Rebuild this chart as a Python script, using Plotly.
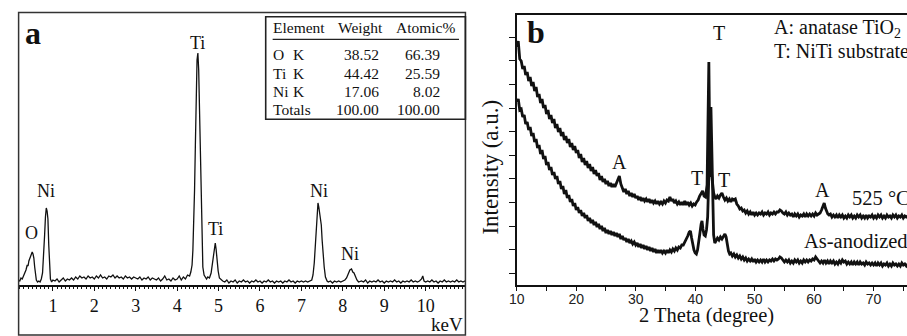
import plotly.graph_objects as go

W, H = 907, 336
SERIF = "Liberation Serif, Times New Roman, serif"
SANS = "Liberation Sans, Arial, sans-serif"
INK = "#111111"

# ================= Panel (a): EDS spectrum =================
eds_kev = [
    0.17, 0.20, 0.23, 0.26, 0.29, 0.32, 0.35, 0.38, 0.40, 0.42,
    0.45, 0.48, 0.50, 0.52, 0.54, 0.56, 0.58, 0.60, 0.63, 0.66,
    0.69, 0.72, 0.75, 0.78, 0.80, 0.82, 0.84, 0.86, 0.88, 0.90,
    0.92, 0.94, 0.97, 1.00,
    1.05, 1.10, 1.15, 1.20, 1.25, 1.30, 1.35, 1.40, 1.45, 1.50,
    1.55, 1.60, 1.65, 1.70, 1.75, 1.80, 1.85, 1.90, 1.95, 2.00,
    2.05, 2.10, 2.15, 2.20, 2.25, 2.30, 2.35, 2.40, 2.45, 2.50,
    2.55, 2.60, 2.65, 2.70, 2.75, 2.80, 2.85, 2.90, 2.95, 3.00,
    3.05, 3.10, 3.15, 3.20, 3.25, 3.30, 3.35, 3.40, 3.45, 3.50,
    3.55, 3.60, 3.65, 3.70, 3.75, 3.80, 3.85, 3.90, 3.95, 4.00,
    4.05, 4.10, 4.15, 4.20, 4.25, 4.30,
    4.33, 4.36, 4.38, 4.40, 4.42, 4.44, 4.46, 4.48, 4.50, 4.52,
    4.54, 4.56, 4.58, 4.60, 4.62, 4.65, 4.68, 4.71, 4.74, 4.78,
    4.82, 4.86, 4.89, 4.92, 4.94, 4.96, 4.99, 5.02, 5.06, 5.10,
    5.15, 5.20, 5.25, 5.30, 5.35, 5.40, 5.45, 5.50, 5.55, 5.60,
    5.65, 5.70, 5.75, 5.80, 5.85, 5.90, 5.95, 6.00, 6.05, 6.10,
    6.15, 6.20, 6.25, 6.30, 6.35, 6.40, 6.45, 6.50, 6.55, 6.60,
    6.65, 6.70, 6.75, 6.80, 6.85, 6.90, 6.95, 7.00, 7.05, 7.10,
    7.15, 7.20, 7.25,
    7.28, 7.31, 7.34, 7.36, 7.38, 7.40, 7.42, 7.44, 7.46, 7.48,
    7.50, 7.52, 7.55, 7.58, 7.62,
    7.65, 7.70, 7.75, 7.80, 7.85, 7.90, 7.95, 8.00, 8.05,
    8.09, 8.13, 8.17, 8.21, 8.24, 8.27, 8.30, 8.34, 8.38,
    8.45, 8.50, 8.55, 8.60, 8.65, 8.70, 8.75, 8.80, 8.85, 8.90,
    8.95, 9.00, 9.05, 9.10, 9.15, 9.20, 9.25, 9.30, 9.35, 9.40,
    9.45, 9.50, 9.55, 9.60, 9.65, 9.70, 9.75, 9.80, 9.85, 9.90,
    9.93, 9.96,
    10.00, 10.05, 10.10, 10.15, 10.20, 10.25, 10.30, 10.35, 10.40, 10.45,
    10.50, 10.55, 10.60, 10.65, 10.70, 10.75, 10.80, 10.85, 10.90, 10.95,
    10.99,
]
eds_counts = [
    5, 4, 7, 6, 9, 12, 15, 20, 19, 24,
    27, 30, 33, 31, 27, 18, 9, 5, 3, 4,
    3, 6, 12, 30, 50, 68, 77, 74, 66, 40,
    14, 6, 3, 5,
    4, 6, 3, 5, 7, 4, 6, 5, 7, 5,
    8, 6, 9, 7, 8, 6, 9, 7, 8, 6,
    9, 7, 10, 7, 8, 6, 9, 8, 10, 7,
    9, 7, 8, 6, 9, 7, 8, 6, 8, 7,
    6, 8, 5, 7, 6, 8, 5, 7, 6, 5,
    7, 4, 6, 9, 5, 6, 4, 7, 5, 6,
    9, 5, 8, 6, 10, 9,
    13, 20, 35, 60, 95, 140, 185, 225, 232, 215,
    175, 125, 75, 35, 18, 10, 8, 6, 8, 7,
    12, 25, 36, 42, 36, 26, 14, 7, 5, 4,
    3, 5, 2, 4, 3, 5, 2, 4, 3, 5,
    3, 4, 2, 4, 3, 5, 3, 4, 2, 4,
    3, 5, 3, 4, 2, 4, 3, 4, 2, 4,
    3, 5, 3, 4, 2, 4, 3, 4, 3, 4,
    3, 4, 5,
    10, 22, 42, 60, 75, 82, 78, 72, 68, 60,
    45, 32, 18, 8, 4,
    3, 4, 2, 4, 3, 4, 3, 4, 5,
    7, 11, 15, 16, 13, 12, 8, 5, 3,
    4, 3, 5, 2, 4, 3, 4, 3, 5, 3,
    4, 2, 4, 3, 4, 3, 5, 3, 4, 2,
    4, 3, 4, 3, 5, 3, 4, 3, 4, 6,
    9, 4,
    3, 4, 3, 5, 3, 4, 2, 4, 3, 5,
    3, 4, 3, 4, 3, 5, 3, 4, 3, 4,
    3,
]
eds_peak_names = ["O", "Ni", "Ti", "Ti", "Ni", "Ni"]

table_header = ["Element", "Weight", "Atomic%"]
table_element = ["O", "Ti", "Ni", "Totals"]
table_line = ["K", "K", "K", ""]
table_weight = ["38.52", "44.42", "17.06", "100.00"]
table_atomic = ["66.39", "25.59", "8.02", "100.00"]

# ================= Panel (b): XRD patterns =================
xrd_525_deg = [
    10.0, 10.25, 10.5, 10.75, 11.0, 11.25, 11.5, 11.75, 12.0, 12.25,
    12.5, 12.75, 13.0, 13.25, 13.5, 13.75, 14.0, 14.25, 14.5, 14.75,
    15.0, 15.25, 15.5, 15.75, 16.0, 16.25, 16.5, 16.75, 17.0, 17.25,
    17.5, 17.75, 18.0, 18.25, 18.5, 18.75, 19.0, 19.25, 19.5, 19.75,
    20.0, 20.25, 20.5, 20.75, 21.0, 21.25, 21.5, 21.75, 22.0, 22.25,
    22.5, 22.75, 23.0, 23.25, 23.5, 23.75, 24.0, 24.25, 24.5, 24.75,
    25.0, 25.25, 25.5, 25.75, 26.0, 26.25, 26.5, 26.75, 27.0, 27.25,
    27.5, 27.75, 28.0, 28.25, 28.5, 28.75, 29.0, 29.25, 29.5, 29.75,
    30.0, 30.25, 30.5, 30.75, 31.0, 31.25, 31.5, 31.75, 32.0, 32.25,
    32.5, 32.75, 33.0, 33.25, 33.5, 33.75, 34.0, 34.25, 34.5, 34.75,
    35.0, 35.25, 35.5, 35.75, 36.0, 36.25, 36.5, 36.75, 37.0, 37.25,
    37.5, 37.75, 38.0, 38.25, 38.5, 38.75, 39.0, 39.25, 39.5, 39.75,
    40.0, 40.25, 40.5, 40.75, 41.0, 41.25, 41.5, 41.75,
    42.0, 42.15, 42.3, 42.45, 42.6, 42.75, 42.9, 43.1, 43.3, 43.5,
    43.75, 44.0, 44.25, 44.5, 44.75, 45.0, 45.25, 45.5, 45.75, 46.0,
    46.25, 46.5, 46.75, 47.0, 47.25, 47.5, 47.75, 48.0, 48.25, 48.5,
    48.75, 49.0, 49.25, 49.5, 49.75, 50.0, 50.25, 50.5, 50.75, 51.0,
    51.25, 51.5, 51.75, 52.0, 52.25, 52.5, 52.75, 53.0, 53.25, 53.5,
    53.75, 54.0, 54.25, 54.5, 54.75, 55.0, 55.25, 55.5, 55.75, 56.0,
    56.25, 56.5, 56.75, 57.0, 57.25, 57.5, 57.75, 58.0, 58.25, 58.5,
    58.75, 59.0, 59.25, 59.5, 59.75, 60.0, 60.25, 60.5, 60.75, 61.0,
    61.25,
    61.5, 61.7, 61.9, 62.1, 62.3, 62.5,
    62.75, 63.0, 63.25, 63.5, 63.75, 64.0, 64.25, 64.5, 64.75, 65.0,
    65.25, 65.5, 65.75, 66.0, 66.25, 66.5, 66.75, 67.0, 67.25, 67.5,
    67.75, 68.0, 68.25, 68.5, 68.75, 69.0, 69.25, 69.5, 69.75, 70.0,
    70.25, 70.5, 70.75, 71.0, 71.25, 71.5, 71.75, 72.0, 72.25, 72.5,
    72.75, 73.0, 73.25, 73.5, 73.75, 74.0, 74.25, 74.5, 74.75, 75.0,
    75.25, 75.5, 75.75,
]
xrd_525_int = [
    238, 244, 226, 224, 216, 219, 210, 213, 204, 208,
    199, 203, 194, 198, 188, 191, 182, 186, 177, 180,
    171, 175, 166, 170, 162, 166, 157, 161, 153, 157,
    149, 153, 145, 149, 142, 146, 138, 142, 135, 139,
    132, 135, 127, 131, 123, 127, 120, 124, 117, 121,
    114, 118, 111, 115, 109, 112, 105, 109, 103, 106,
    101, 104, 99, 102, 98, 101, 98, 102, 104, 109,
    101, 96, 93, 96, 91, 94, 89, 92, 88, 91,
    87, 89, 85, 88, 84, 87, 84, 86, 83, 86,
    82, 85, 82, 84, 81, 84, 81, 83, 81, 84,
    82, 85, 84, 88, 84, 86, 82, 84, 81, 83,
    80, 83, 80, 84, 80, 83, 80, 82, 79, 81,
    80, 83, 85, 89, 91, 94, 89, 88,
    100, 160, 223, 140, 108, 112, 100, 92, 88, 86,
    89, 87, 90, 92, 88, 85, 87, 84, 86, 83,
    86, 85, 86, 81, 79, 76, 77, 74, 75, 72,
    74, 71, 73, 70, 73, 70, 72, 70, 72, 71,
    73, 70, 72, 71, 73, 70, 72, 71, 73, 71,
    73, 73, 75, 74, 72, 71, 73, 70, 72, 70,
    71, 68, 71, 69, 71, 68, 70, 69, 71, 68,
    71, 69, 71, 69, 71, 69, 72, 70, 71, 72,
    75,
    80, 82, 77, 73, 71, 70,
    71, 68, 70, 68, 70, 67, 70, 68, 70, 67,
    69, 67, 70, 68, 70, 67, 69, 67, 70, 68,
    70, 67, 69, 67, 70, 67, 69, 68, 70, 67,
    69, 67, 70, 68, 70, 67, 69, 67, 70, 68,
    69, 67, 70, 68, 70, 67, 69, 68, 70, 67,
    69, 68, 69,
]
xrd_anod_deg = [
    10.0, 10.25, 10.5, 10.75, 11.0, 11.25, 11.5, 11.75, 12.0, 12.25,
    12.5, 12.75, 13.0, 13.25, 13.5, 13.75, 14.0, 14.25, 14.5, 14.75,
    15.0, 15.25, 15.5, 15.75, 16.0, 16.25, 16.5, 16.75, 17.0, 17.25,
    17.5, 17.75, 18.0, 18.25, 18.5, 18.75, 19.0, 19.25, 19.5, 19.75,
    20.0, 20.25, 20.5, 20.75, 21.0, 21.25, 21.5, 21.75, 22.0, 22.25,
    22.5, 22.75, 23.0, 23.25, 23.5, 23.75, 24.0, 24.25, 24.5, 24.75,
    25.0, 25.25, 25.5, 25.75, 26.0, 26.25, 26.5, 26.75, 27.0, 27.25,
    27.5, 27.75, 28.0, 28.25, 28.5, 28.75, 29.0, 29.25, 29.5, 29.75,
    30.0, 30.25, 30.5, 30.75, 31.0, 31.25, 31.5, 31.75, 32.0, 32.25,
    32.5, 32.75, 33.0, 33.25, 33.5, 33.75, 34.0, 34.25, 34.5, 34.75,
    35.0, 35.25, 35.5, 35.75, 36.0, 36.25, 36.5, 36.75, 37.0, 37.25,
    37.5, 37.75, 38.0, 38.25, 38.5, 38.75,
    39.0, 39.2, 39.4, 39.6, 39.8, 40.0, 40.2, 40.4, 40.6, 40.8,
    41.0, 41.15, 41.3, 41.5, 41.7, 41.9, 42.1, 42.3, 42.5, 42.65,
    42.8, 42.95, 43.1, 43.3, 43.5,
    43.75, 44.0, 44.25, 44.5, 44.75, 45.0,
    45.2, 45.4, 45.6, 45.8,
    46.0, 46.25, 46.5, 46.75, 47.0, 47.25, 47.5, 47.75, 48.0, 48.25,
    48.5, 48.75, 49.0, 49.25, 49.5, 49.75, 50.0, 50.25, 50.5, 50.75,
    51.0, 51.25, 51.5, 51.75, 52.0, 52.25, 52.5, 52.75, 53.0, 53.25,
    53.5, 53.75, 54.0, 54.25, 54.5, 54.75, 55.0, 55.25, 55.5, 55.75,
    56.0, 56.25, 56.5, 56.75, 57.0, 57.25, 57.5, 57.75, 58.0, 58.25,
    58.5, 58.75, 59.0, 59.25, 59.5, 59.75, 60.0, 60.25, 60.5, 60.75,
    61.0, 61.25, 61.5, 61.75, 62.0, 62.25, 62.5, 62.75, 63.0, 63.25,
    63.5, 63.75, 64.0, 64.25, 64.5, 64.75, 65.0, 65.25, 65.5, 65.75,
    66.0, 66.25, 66.5, 66.75, 67.0, 67.25, 67.5, 67.75, 68.0, 68.25,
    68.5, 68.75, 69.0, 69.25, 69.5, 69.75, 70.0, 70.25, 70.5, 70.75,
    71.0, 71.25, 71.5, 71.75, 72.0, 72.25, 72.5, 72.75, 73.0, 73.25,
    73.5, 73.75, 74.0, 74.25, 74.5, 74.75, 75.0, 75.25, 75.5, 75.75,
]
xrd_anod_int = [
    183, 186, 175, 176, 168, 170, 161, 163, 155, 158,
    149, 152, 143, 146, 137, 140, 131, 135, 126, 129,
    120, 123, 115, 118, 110, 113, 106, 109, 101, 104,
    96, 99, 91, 95, 87, 90, 83, 86, 79, 82,
    75, 78, 72, 75, 69, 72, 67, 70, 64, 67,
    62, 65, 60, 63, 58, 61, 56, 59, 54, 57,
    52, 55, 51, 54, 50, 53, 49, 52, 48, 51,
    46, 49, 45, 47, 43, 46, 42, 44, 41, 43,
    40, 42, 38, 41, 37, 40, 36, 39, 35, 38,
    34, 37, 33, 36, 32, 35, 32, 35, 32, 34,
    32, 35, 32, 35, 33, 36, 34, 37, 35, 38,
    37, 40, 40, 43, 45, 49,
    53, 54, 47, 40, 35, 32, 31, 35, 42, 52,
    61, 64, 56, 50, 49, 55, 68, 100, 150, 178,
    120, 70, 50, 42, 45,
    47, 45, 48, 46, 49, 51,
    48, 40, 34, 31,
    32, 29, 31, 28, 30, 27, 29, 26, 28, 25,
    27, 24, 26, 24, 26, 23, 26, 23, 25, 23,
    25, 23, 26, 23, 25, 23, 25, 24, 26, 24,
    26, 25, 26, 28, 27, 25, 23, 25, 23, 25,
    22, 24, 22, 25, 23, 25, 22, 24, 22, 25,
    23, 25, 23, 25, 24, 26, 25, 28, 26, 24,
    22, 24, 22, 25, 22, 24, 21, 24, 22, 24,
    21, 23, 21, 24, 22, 25, 23, 24, 21, 23,
    21, 23, 20, 23, 21, 23, 20, 23, 21, 22,
    20, 23, 21, 22, 20, 22, 20, 22, 19, 22,
    20, 22, 19, 21, 20, 22, 19, 21, 19, 22,
    20, 21, 19, 21, 19, 22, 20, 21, 19, 21,
]
xrd_peak_marks = ["T", "A", "T", "T", "A"]
xrd_sample_names = ["525 \u00b0C", "As-anodized"]
xrd_key = ["A: anatase TiO<sub>2</sub>", "T: NiTi substrate"]

assert len(eds_kev) == len(eds_counts)
assert len(xrd_525_deg) == len(xrd_525_int)
assert len(xrd_anod_deg) == len(xrd_anod_int)


def fx(p):
    return p / W


def fy(p):
    return 1 - p / H


def label(text, x, y, size, family=SERIF, xanchor="center", angle=0, color=INK):
    return dict(text=text, x=fx(x), y=fy(y), xref="paper", yref="paper",
                xanchor=xanchor, yanchor="middle", showarrow=False,
                font=dict(family=family, size=size, color=color),
                textangle=angle, borderpad=0, borderwidth=0)


fig = go.Figure()
fig.add_trace(go.Scatter(x=eds_kev, y=eds_counts, mode="lines",
                         line=dict(color=INK, width=1.3),
                         xaxis="x", yaxis="y", hoverinfo="skip"))
fig.add_trace(go.Scatter(x=xrd_525_deg, y=xrd_525_int, mode="lines",
                         line=dict(color=INK, width=2.8),
                         xaxis="x2", yaxis="y2", hoverinfo="skip"))
fig.add_trace(go.Scatter(x=xrd_anod_deg, y=xrd_anod_int, mode="lines",
                         line=dict(color=INK, width=2.8),
                         xaxis="x2", yaxis="y2", hoverinfo="skip"))

annotations = []
# panel a labels
annotations.append(label("<b>a</b>", 25, 33.5, 32))
eds_label_pos = [(24, 232.5), (38.3, 190.9), (191, 42.5), (209, 229.2), (314, 190.9), (345, 254.2)]
for name, (x, y) in zip(eds_peak_names, eds_label_pos):
    annotations.append(label(name, x, y, 18))
annotations.append(label("keV", 443, 324, 19))
# table
annotations.append(label(table_header[0], 267, 27, 15.5, xanchor="left"))
annotations.append(label(table_header[1], 333, 27, 15.5, xanchor="left"))
annotations.append(label(table_header[2], 391.7, 27, 15.5, xanchor="left"))
row_y = [54.7, 73, 91.4, 109.7]
for el, ln, wt, at, y in zip(table_element, table_line, table_weight, table_atomic, row_y):
    annotations.append(label(el, 267, y, 15.5, xanchor="left"))
    if ln:
        annotations.append(label(ln, 287.3, y, 15.5, xanchor="left"))
    annotations.append(label(wt, 374.5, y, 15.5, xanchor="right"))
    annotations.append(label(at, 435.5, y, 15.5, xanchor="right"))

# panel b labels
annotations.append(label("<b>b</b>", 533, 32.4, 32))
xrd_mark_pos = [(717.3, 33.2), (616.8, 161.5), (695, 178.2), (722.5, 180), (821.7, 189.9)]
for m, (x, y) in zip(xrd_peak_marks, xrd_mark_pos):
    annotations.append(label(m, x, y, 20))
annotations.append(label(xrd_sample_names[0], 851.7, 198.2, 20.5, xanchor="left"))
annotations.append(label(xrd_sample_names[1], 802.7, 241.2, 20.5, xanchor="left"))
annotations.append(label(xrd_key[0], 772.7, 28.5, 20, xanchor="left"))
annotations.append(label(xrd_key[1], 772.7, 50.5, 20, xanchor="left"))
annotations.append(label("2 Theta (degree)", 705, 315, 20.5))
annotations.append(label("Intensity (a.u.)", 487.2, 166.7, 23, angle=-90))

shapes = [
    # panel a outer frame
    dict(type="rect", xref="paper", yref="paper", x0=fx(10.7), x1=fx(461.5),
         y0=fy(335), y1=fy(12.5), line=dict(color="#333333", width=1.5)),
    # element table
    dict(type="rect", xref="paper", yref="paper", x0=fx(260), x1=fx(461.5),
         y0=fy(119.3), y1=fy(16.7), line=dict(color="#222222", width=1.6)),
    dict(type="line", xref="paper", yref="paper", x0=fx(267), x1=fx(455),
         y0=fy(39.3), y1=fy(39.3), line=dict(color="#222222", width=1.2)),
]

fig.update_layout(
    width=W, height=H,
    margin=dict(l=0, r=0, t=0, b=0),
    paper_bgcolor="white", plot_bgcolor="white",
    showlegend=False,
    annotations=annotations,
    shapes=shapes,
    xaxis=dict(domain=[fx(10.7), fx(461.5)], range=[0.172, 10.96], anchor="y",
               showline=True, linecolor=INK, linewidth=1.5,
               tickmode="linear", tick0=0, dtick=1,
               ticks="outside", ticklen=4, tickwidth=1.2, tickcolor=INK,
               tickfont=dict(family=SERIF, size=18, color=INK),
               minor=dict(dtick=0.1, tick0=0, ticks="outside", ticklen=2,
                          tickwidth=1, tickcolor=INK, showgrid=False),
               showgrid=False, zeroline=False, fixedrange=True),
    yaxis=dict(domain=[fy(285), fy(12.5)], range=[0, 272.5], anchor="x",
               visible=False, fixedrange=True),
    xaxis2=dict(domain=[fx(513.3), 1], range=[10, 75.62], anchor="y2",
                showline=True, mirror=True, linecolor=INK, linewidth=1.6,
                tickmode="linear", tick0=10, dtick=10,
                ticks="outside", ticklen=4, tickwidth=1.2, tickcolor=INK,
                ticklabelstandoff=-4,
                tickfont=dict(family=SANS, size=14, color="#222222"),
                minor=dict(dtick=5, tick0=10, ticks="outside", ticklen=4,
                           tickwidth=1.2, tickcolor=INK, showgrid=False),
                showgrid=False, zeroline=False, fixedrange=True),
    yaxis2=dict(domain=[fy(285), fy(15)], range=[0, 270], anchor="x2",
                showline=True, linecolor=INK, linewidth=1.6,
                tickmode="linear", tick0=11.7, dtick=23.6,
                ticks="outside", ticklen=6, tickwidth=1.2, tickcolor=INK,
                showticklabels=False, showgrid=False, zeroline=False,
                fixedrange=True),
)

fig.write_html(
    "out.html",
    config={"displayModeBar": False},
    post_script="document.body.style.margin='0';document.body.style.overflow='hidden';",
)
